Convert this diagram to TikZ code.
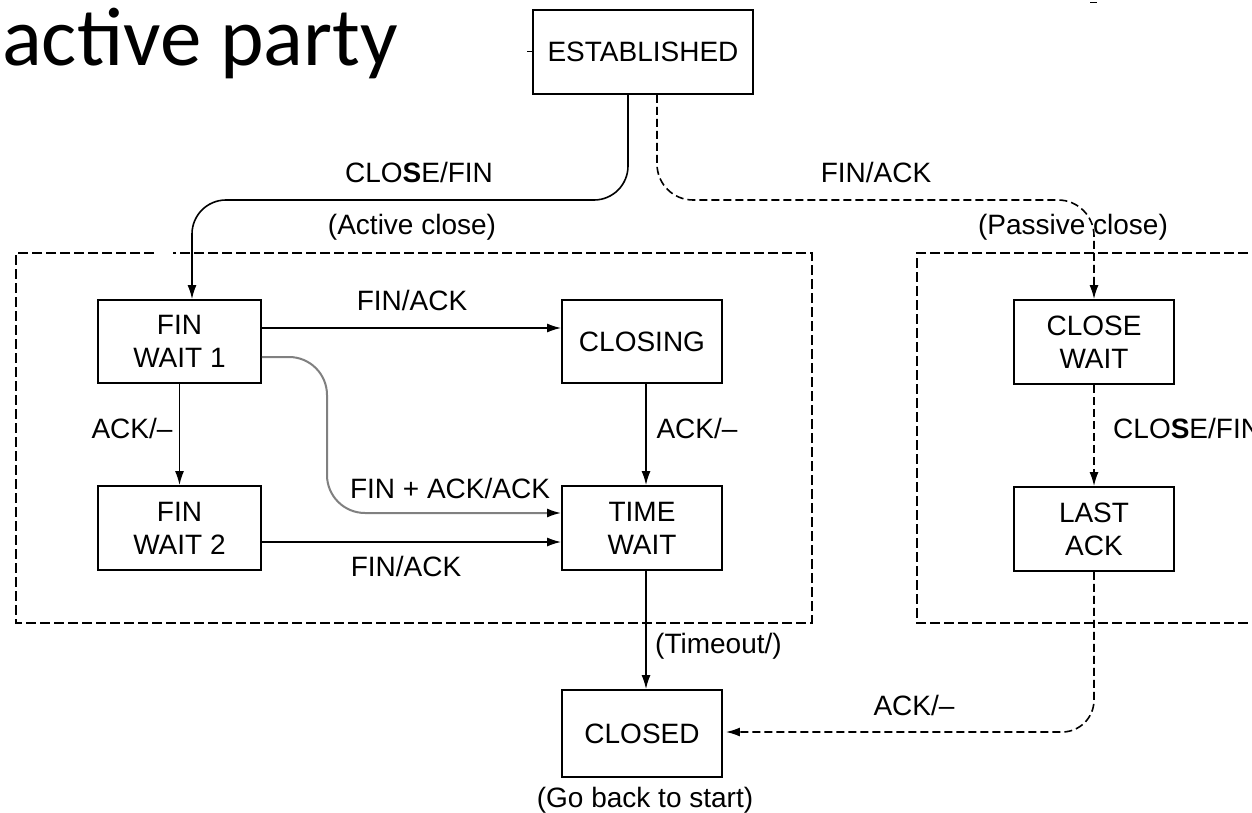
\documentclass[tikz,border=0pt]{standalone}
\usepackage{fontspec}
\setmainfont{Liberation Sans}
\newfontfamily\titlefont{Carlito}
\usetikzlibrary{arrows.meta}
\begin{document}
\begin{tikzpicture}[x=1pt,y=-1pt,
  state/.style={draw,line width=1.8pt,minimum width=160pt,minimum height=84pt,inner sep=0pt,align=center,font=\fontsize{28}{33}\selectfont},
  lbl/.style={inner sep=0pt,font=\fontsize{28}{33}\selectfont},
  arr/.style={line width=1.6pt,-{Latex[length=14pt,width=9pt]}},
  darr/.style={arr,dash pattern=on 8pt off 4pt},
  grayarr/.style={line width=2pt,draw=black!50,-{Latex[length=14pt,width=9pt,color=black]}},
  region/.style={line width=1.8pt,dash pattern=on 10pt off 4pt},
]
\fill[white] (0,0) rectangle (1252,813);
\useasboundingbox (0,0) rectangle (1252,813);

% title
\node[anchor=base west,inner sep=0pt,font=\titlefont\fontsize{83}{90}\selectfont] (title) at (2,66) {active party};

% regions
\draw[region] (154,253) -- (16,253) -- (16,623) -- (812,623) -- (812,253) -- (173,253);
\draw[region] (1262,253) -- (917,253) -- (917,623) -- (1262,623);

% states
\node[state,minimum width=220pt] (est) at (643,52) {ESTABLISHED};
\node[state,minimum width=163pt,minimum height=83pt] (fw1) at (179.5,341.5) {FIN\\WAIT 1};
\node[state,minimum height=83pt] (closing) at (642,341.5) {CLOSING};
\node[state,minimum width=163pt] (fw2) at (179.5,528) {FIN\\WAIT 2};
\node[state] (tw) at (642,528) {TIME\\WAIT};
\node[state] (cw) at (1094,342) {CLOSE\\WAIT};
\node[state] (la) at (1094,529) {LAST\\ACK};
\node[state,minimum height=87pt] (closed) at (642,733.5) {CLOSED};

% small marks
\coordinate (m1) at (527,52);
\coordinate (m2) at (532,52);
\draw[line width=1pt] (m1) -- (m2);
\coordinate (m3) at (1090,3);
\coordinate (m4) at (1097,3);
\draw[line width=1pt] (m3) -- (m4);

% connectors
\draw[arr,rounded corners=34] ([xshift=-15pt]est.south) |- (192,200) -- ([xshift=12.5pt]fw1.north);
\draw[darr,rounded corners=36] ([xshift=14pt]est.south) |- (1094,200) -- (cw.north);
\draw[arr] ([yshift=13.5pt]fw1.east) -- ([yshift=13.5pt]closing.west);
\draw[grayarr,rounded corners=38] ([yshift=-15.5pt]fw1.east) -| (327,513) -- ([yshift=15pt]tw.west);
\draw[arr] ([yshift=-14pt]fw2.east) -- ([yshift=-14pt]tw.west);
\draw[arr] (fw1.south) -- (fw2.north);
\draw[arr] ([xshift=4pt]closing.south) -- ([xshift=4pt]tw.north);
\draw[arr] ([xshift=4pt]tw.south) -- ([xshift=4pt]closed.north);
\draw[darr] (cw.south) -- (la.north);
\draw[darr,rounded corners=32,shorten >=3pt] (la.south) |- ([yshift=1.5pt]closed.east);

% labels
\node[lbl] (l1) at (419,172) {CLO{\bfseries S}E/FIN};
\node[lbl] (l2) at (412,227) {(Active close)};
\node[lbl] (l3) at (876,172) {FIN/ACK};
\node[lbl] (l4) at (1073,227) {(Passive close)};
\node[lbl] (l5) at (412,300) {FIN/ACK};
\node[lbl] (l6) at (132,428) {ACK/--};
\node[lbl] (l7) at (697,428) {ACK/--};
\node[lbl] (l8) at (450,488) {FIN + ACK/ACK};
\node[lbl] (l9) at (406,566) {FIN/ACK};
\node[lbl,anchor=west] (l10) at (1113,428) {CLO{\bfseries S}E/FIN};
\node[lbl,anchor=west] (l11) at (655,646) {(Timeout/)};
\node[lbl] (l12) at (914,705) {ACK/--};
\node[lbl] (l13) at (645,800) {(Go back to start)};
\end{tikzpicture}
\end{document}
